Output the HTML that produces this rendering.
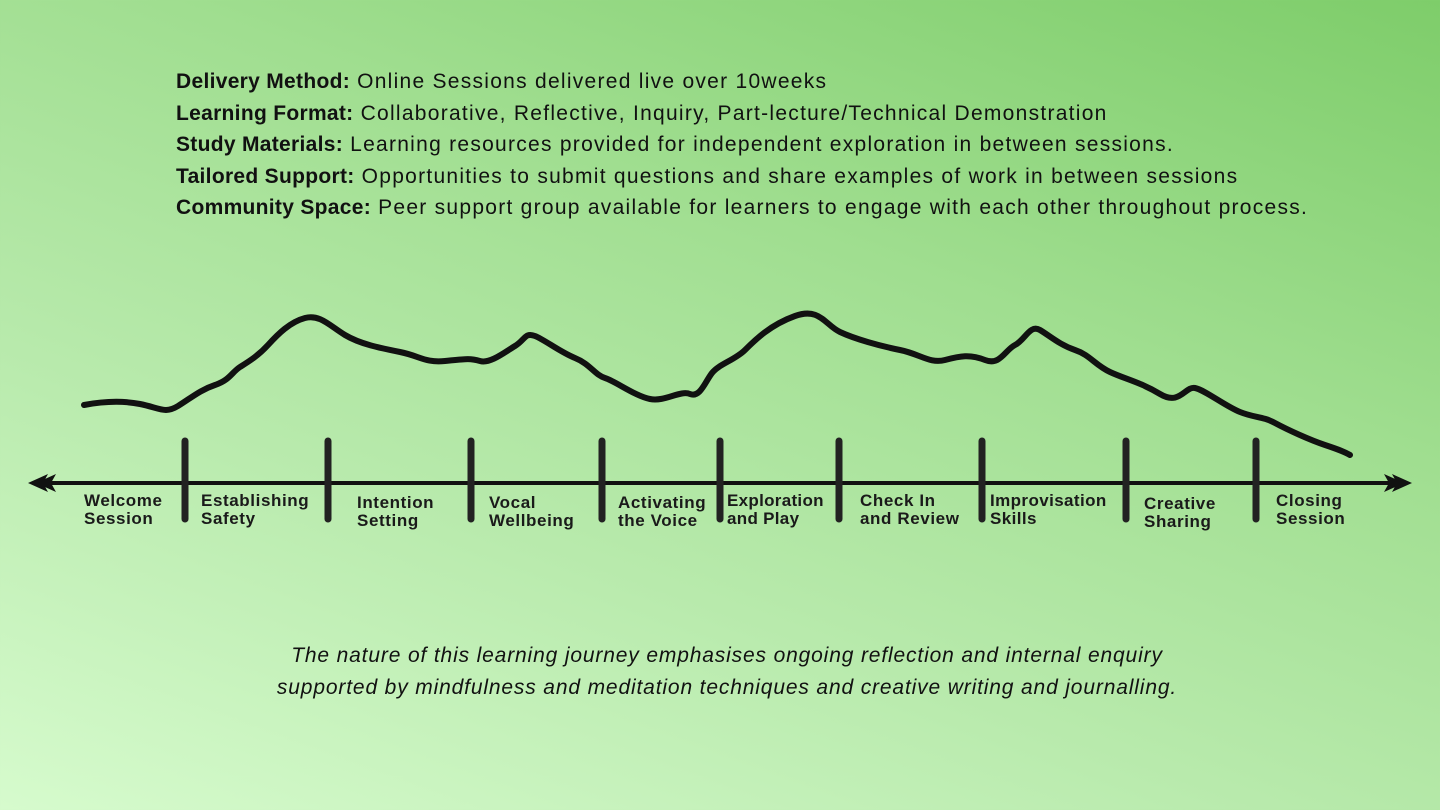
<!DOCTYPE html>
<html><head><meta charset="utf-8"><style>
body{margin:0;width:1440px;height:810px;overflow:hidden;position:relative;
background:linear-gradient(20deg,#d6fbcd 0%,#b8eaac 35%,#a0de90 65%,#7ecd6a 100%);
font-family:"Liberation Sans",sans-serif;color:#111;}
.info{position:absolute;left:176px;top:66px;font-size:21px;line-height:31.6px;letter-spacing:1.27px;white-space:nowrap}
.info b{font-weight:bold;letter-spacing:0.3px}
.lbl{position:absolute;top:492px;font-size:17px;font-weight:bold;line-height:18px;color:#1a1a1a;letter-spacing:0.6px;white-space:nowrap}
.foot{position:absolute;left:0;width:1454px;top:640px;text-align:center;font-style:italic;font-size:21px;line-height:32px;letter-spacing:0.85px}
</style></head><body>
<div class="info">
<div><b>Delivery Method:</b> Online Sessions delivered live over 10weeks</div>
<div><b>Learning Format:</b> Collaborative, Reflective, Inquiry, Part-lecture/Technical Demonstration</div>
<div><b>Study Materials:</b> Learning resources provided for independent exploration in between sessions.</div>
<div><b>Tailored Support:</b> Opportunities to submit questions and share examples of work in between sessions</div>
<div><b>Community Space:</b> Peer support group available for learners to engage with each other throughout process.</div>
</div>
<svg width="1440" height="810" style="position:absolute;left:0;top:0">
<path d="M84,405 C100,402 120,400 140,404 S165,414 178,406 S200,390 215,385 S232,372 240,367 S258,356 268,345 S290,322 305,318 S330,326 345,335 S380,348 400,352 S425,363 445,361 S470,358 480,361 S505,352 515,346 S525,332 535,336 S560,352 575,358 S595,375 605,378 S635,396 650,399 S680,390 690,394 S705,382 712,373 S735,360 745,350 S770,325 795,316 S825,325 840,332 S880,346 900,350 S930,364 945,360 S970,354 985,360 S1005,350 1015,345 S1030,324 1040,330 S1060,345 1075,350 S1095,365 1110,372 S1140,382 1160,394 S1185,386 1195,388 S1225,406 1240,412 S1262,416 1275,423 S1310,440 1325,445 S1345,452 1350,455"
fill="none" stroke="#111" stroke-width="6" stroke-linecap="round" stroke-linejoin="round"/>
<line x1="36" y1="483" x2="1402" y2="483" stroke="#111" stroke-width="4"/>
<path d="M28,483 L48,474 L43,483 L48,492 Z M36,483 L56,474 L51,483 L56,492 Z" fill="#111"/>
<path d="M1412,483 L1392,474 L1397,483 L1392,492 Z M1404,483 L1384,474 L1389,483 L1384,492 Z" fill="#111"/>
<g stroke="#222" stroke-width="7" stroke-linecap="round">
<line x1="185" y1="441" x2="185" y2="519"/><line x1="328" y1="441" x2="328" y2="519"/>
<line x1="471" y1="441" x2="471" y2="519"/><line x1="602" y1="441" x2="602" y2="519"/>
<line x1="720" y1="441" x2="720" y2="519"/><line x1="839" y1="441" x2="839" y2="519"/>
<line x1="982" y1="441" x2="982" y2="519"/><line x1="1126" y1="441" x2="1126" y2="519"/>
<line x1="1256" y1="441" x2="1256" y2="519"/>
</g>
</svg>
<div class="lbl" style="left:84px">Welcome<br>Session</div>
<div class="lbl" style="left:201px">Establishing<br>Safety</div>
<div class="lbl" style="left:357px;top:494px">Intention<br>Setting</div>
<div class="lbl" style="left:489px;top:494px">Vocal<br>Wellbeing</div>
<div class="lbl" style="left:618px;top:494px">Activating<br>the Voice</div>
<div class="lbl" style="left:727px;letter-spacing:0.3px">Exploration<br>and Play</div>
<div class="lbl" style="left:860px">Check In<br>and Review</div>
<div class="lbl" style="left:990px;letter-spacing:0.4px">Improvisation<br>Skills</div>
<div class="lbl" style="left:1144px;top:495px">Creative<br>Sharing</div>
<div class="lbl" style="left:1276px">Closing<br>Session</div>
<div class="foot">The nature of this learning journey emphasises ongoing reflection and internal enquiry<br>supported by mindfulness and meditation techniques and creative writing and journalling.</div>
</body></html>
